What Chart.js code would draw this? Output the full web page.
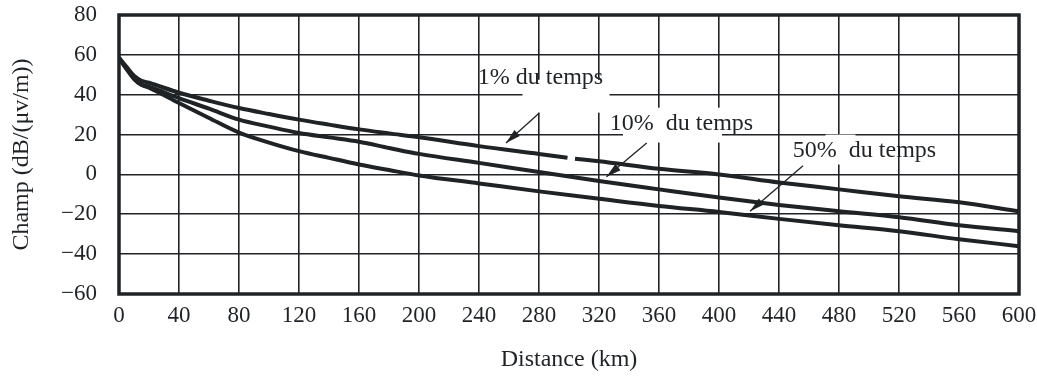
<!DOCTYPE html>
<html>
<head>
<meta charset="utf-8">
<script src="https://cdn.jsdelivr.net/npm/chart.js@4.4.0/dist/chart.umd.min.js"></script>
<style>
  html, body { margin: 0; padding: 0; background: #fff; }
  #wrap { width: 1037px; height: 376px; }
</style>
</head>
<body>
<div id="wrap"><canvas id="chart" width="1037" height="376"></canvas></div>
<script>
// distance (km) and field strength (dB(uV/m))
const distances = [0, 5, 10, 15, 20, 40, 60, 80, 100, 120, 140, 160, 180, 200, 240, 280, 320, 360, 400, 440, 480, 520, 560, 600];
// the 1% curve has a small break near 300 km
const distances1 = [0, 5, 10, 15, 20, 40, 60, 80, 100, 120, 140, 160, 180, 200, 240, 280, 299, 301, 304, 320, 360, 400, 440, 480, 520, 560, 600];
const field1 = [58.5, 54, 49.5, 47, 46, 41, 37, 33.3, 30.3, 27.5, 25, 22.6, 20.6, 18.7, 14.2, 10.3, 8.4, null, 7.9, 6.6, 2.8, 0, -4, -7.5, -11, -14, -18.5];
const field10 = [58.5, 53, 48, 45, 44, 38.3, 33, 27.5, 24, 20.8, 18.6, 16.4, 13.3, 10.3, 5.8, 1.2, -3.3, -7.5, -11.6, -15.3, -18.5, -21.5, -25.5, -28.5];
const field50 = [58.5, 53, 48, 45, 43.5, 35.8, 28.3, 21, 16, 11.7, 8.3, 5, 2.2, -0.5, -4.5, -8.5, -12.2, -15.8, -18.8, -22.3, -25.5, -28.5, -32.5, -36];
const seriesNames = ['1% du temps', '10% du temps', '50% du temps'];
const xTicks = [0, 40, 80, 120, 160, 200, 240, 280, 320, 360, 400, 440, 480, 520, 560, 600];
const yTicks = [-60, -40, -20, 0, 20, 40, 60, 80];

// caption positions, white patch and arrow, in data units
const notes = [
    { text: '1% du temps', x: 281, y: 48.5, box: [269, 327, 47.5, 31], from: [280.2, 30.8], to: [258, 15.8] },
    { text: '10%  du temps', x: 375, y: 25.5, box: [336, 402, 33.5, 16], from: [351.8, 15.8], to: [325, -1.2] },
    { text: '50%  du temps', x: 497, y: 12, box: [471, 491, 20, 5], from: [456, 4.3], to: [420.7, -18.5] }
];

const ink = '#1f2326';
const serif = '"Liberation Serif", "DejaVu Serif", serif';

function toPoints(xs, ys) {
    return xs.map((d, i) => ({ x: d, y: ys[i] }));
}

function arrow(ctx, x1, y1, x2, y2) {
    ctx.beginPath();
    ctx.moveTo(x1, y1);
    ctx.lineTo(x2, y2);
    ctx.stroke();
    const a = Math.atan2(y2 - y1, x2 - x1);
    const len = 15, w = 4;
    ctx.beginPath();
    ctx.moveTo(x2, y2);
    ctx.lineTo(x2 - len * Math.cos(a) + w * Math.sin(a), y2 - len * Math.sin(a) - w * Math.cos(a));
    ctx.lineTo(x2 - len * Math.cos(a) - w * Math.sin(a), y2 - len * Math.sin(a) + w * Math.cos(a));
    ctx.closePath();
    ctx.fill();
}

function noPad(s) {
    s.paddingTop = 0;
    s.paddingBottom = 0;
    s.paddingLeft = 0;
    s.paddingRight = 0;
}

const captions = {
    id: 'captions',
    beforeDatasetsDraw(chart) {
        // white patches under the captions hide parts of the grid
        const { ctx, scales: { x, y } } = chart;
        ctx.save();
        ctx.fillStyle = '#fff';
        notes.forEach(n => {
            const x0 = x.getPixelForValue(n.box[0]);
            const x1 = x.getPixelForValue(n.box[1]);
            const y0 = y.getPixelForValue(n.box[2]);
            const y1 = y.getPixelForValue(n.box[3]);
            ctx.fillRect(x0, y0, x1 - x0, y1 - y0);
        });
        ctx.restore();
    },
    afterDatasetsDraw(chart) {
        const { ctx, chartArea: a, scales: { x, y } } = chart;
        ctx.save();
        ctx.font = '24px ' + serif;
        ctx.fillStyle = ink;
        ctx.strokeStyle = ink;
        ctx.textAlign = 'center';
        ctx.textBaseline = 'middle';
        notes.forEach(n => {
            ctx.fillText(n.text, x.getPixelForValue(n.x), y.getPixelForValue(n.y));
            ctx.lineWidth = 1.3;
            arrow(ctx,
                x.getPixelForValue(n.from[0]), y.getPixelForValue(n.from[1]),
                x.getPixelForValue(n.to[0]), y.getPixelForValue(n.to[1]));
        });
        // heavy frame
        ctx.lineWidth = 3.5;
        ctx.strokeRect(a.left, a.top, a.right - a.left, a.bottom - a.top);
        ctx.restore();
    }
};

const series = [
    toPoints(distances1, field1),
    toPoints(distances, field10),
    toPoints(distances, field50)
];

const ctx = document.getElementById('chart').getContext('2d');
new Chart(ctx, {
    type: 'line',
    data: {
        datasets: series.map((pts, i) => ({
            label: seriesNames[i],
            data: pts,
            borderColor: ink,
            borderWidth: 4,
            pointRadius: 0,
            cubicInterpolationMode: 'monotone',
            spanGaps: false,
            fill: false
        }))
    },
    options: {
        responsive: false,
        animation: false,
        devicePixelRatio: 1,
        layout: { padding: { top: 15, right: 18, left: 0, bottom: 0 } },
        plugins: {
            legend: { display: false },
            tooltip: { enabled: false }
        },
        scales: {
            x: {
                type: 'linear',
                min: 0,
                max: 600,
                afterBuildTicks: s => { s.ticks = xTicks.map(v => ({ value: v })); },
                afterFit: s => { s.height = 82; noPad(s); },
                grid: { color: ink, lineWidth: 1.6, drawTicks: false },
                border: { display: false },
                ticks: {
                    color: ink,
                    padding: 8,
                    maxRotation: 0,
                    font: { family: serif, size: 23 }
                },
                title: {
                    display: true,
                    text: 'Distance (km)',
                    color: ink,
                    padding: { top: 0, bottom: 2 },
                    font: { family: serif, size: 24 }
                }
            },
            y: {
                min: -60,
                max: 80,
                afterBuildTicks: s => { s.ticks = yTicks.map(v => ({ value: v })); },
                afterFit: s => { s.width = 119; noPad(s); },
                grid: { color: ink, lineWidth: 1.6, drawTicks: false },
                border: { display: false },
                ticks: {
                    color: ink,
                    padding: 22,
                    font: { family: serif, size: 23 },
                    callback: v => String(v).replace('-', '\u2212')
                },
                title: {
                    display: true,
                    text: 'Champ (dB/(\u03bcv/m))',
                    color: ink,
                    padding: { top: 7, bottom: 0 },
                    font: { family: serif, size: 24 }
                }
            }
        }
    },
    plugins: [captions]
});
</script>
</body>
</html>
